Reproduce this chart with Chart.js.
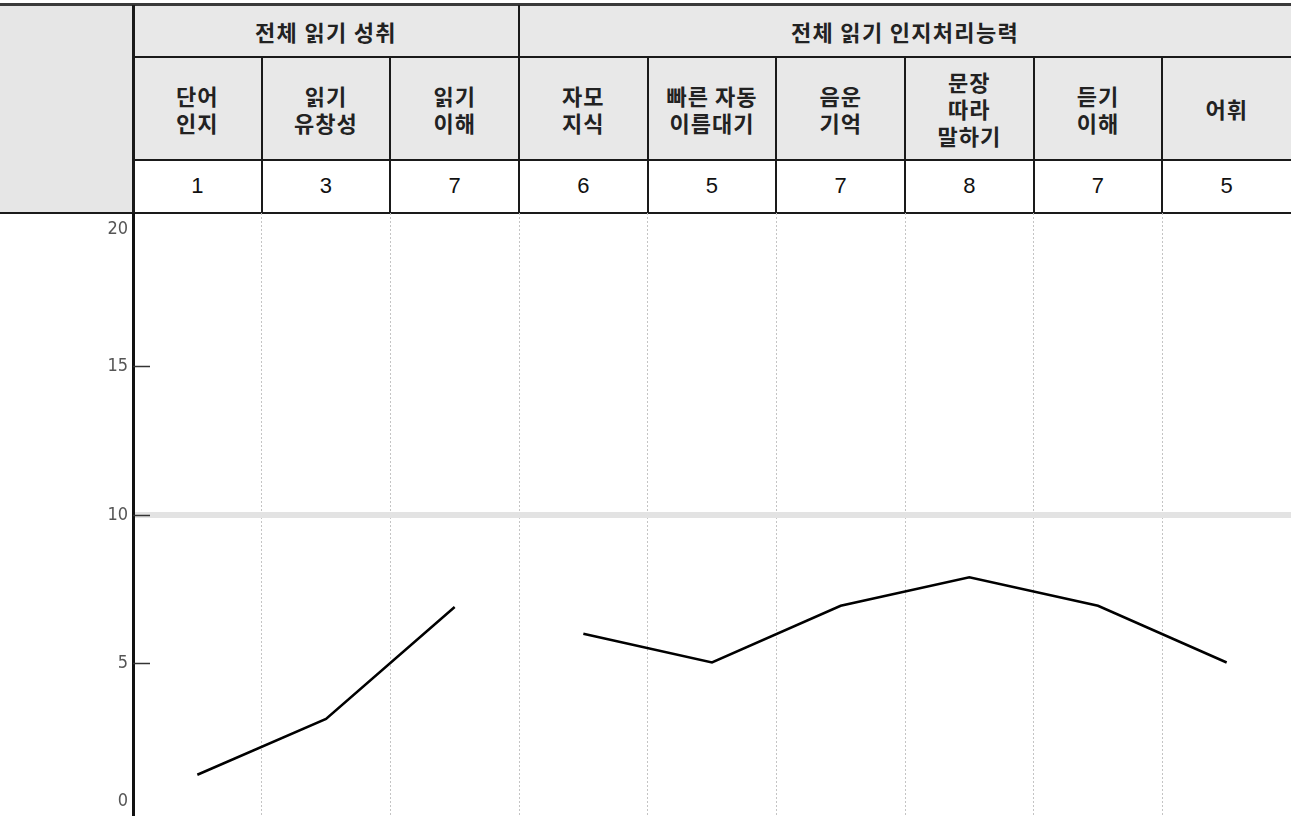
<!DOCTYPE html>
<html>
<head>
<meta charset="utf-8">
<script src="https://cdn.jsdelivr.net/npm/chart.js@4/dist/chart.umd.min.js"></script>
<style>
  html, body { margin: 0; padding: 0; background: #fff; }
  #wrap { position: relative; width: 1291px; height: 816px; overflow: hidden; }
  #table { position: absolute; left: 0; top: 0; width: 1291px; height: 213px; }
  .cell { position: absolute; box-sizing: border-box; display: flex; align-items: center; justify-content: center;
          text-align: center; font-family: "Noto Sans CJK KR", sans-serif; font-weight: 700; color: #222; }
  .ln { position: absolute; background: #1a1a1a; }
  #chartBox { position: absolute; left: 0; top: 213px; width: 1291px; height: 603px; }
</style>
</head>
<body>
<div id="wrap">
  <div id="table"></div>
  <div id="chartBox"><canvas id="c" width="1291" height="603"></canvas></div>
</div>
<script>
// ---- data ----
const groups = ["전체 읽기 성취", "전체 읽기 인지처리능력"];
const groupSizes = [3, 6];
const categories = [
  ["단어", "인지"], ["읽기", "유창성"], ["읽기", "이해"],
  ["자모", "지식"], ["빠른 자동", "이름대기"], ["음운", "기억"],
  ["문장", "따라", "말하기"], ["듣기", "이해"], ["어휘"]
];
const tableValues = [1, 3, 7, 6, 5, 7, 8, 7, 5];
const achievementSeries = [1.25, 3.13, 6.9, null, null, null, null, null, null];
const cognitiveSeries = [null, null, null, 6.0, 5.03, 6.94, 7.9, 6.94, 5.03];
const yTickValues = [0, 5, 10, 15, 20];
const yTickLabels = ["0", "5", "10", "15", "20"];

// ---- header table (layout) ----
const T = document.getElementById('table');
const L = 133, R = 1291, colW = (R - L) / categories.length;
function el(cls, x, y, w, h, bg) {
  const d = document.createElement('div');
  d.className = cls;
  d.style.left = x + 'px'; d.style.top = y + 'px';
  d.style.width = w + 'px'; d.style.height = h + 'px';
  if (bg) d.style.background = bg;
  T.appendChild(d);
  return d;
}
const y0 = 5, y1 = 57, y2 = 160, y3 = 212;
el('cell', 0, y0, L, y3 - y0, '#e6e6e6');
el('cell', L, y0, R - L, y2 - y0, '#e8e8e8');
let gi = 0;
groups.forEach((g, k) => {
  const x = L + gi * colW, w = groupSizes[k] * colW;
  const c = el('cell', x, y0, w, y1 - y0);
  c.textContent = g; c.style.fontSize = '22px'; c.style.letterSpacing = '1.3px';
  gi += groupSizes[k];
});
categories.forEach((cat, i) => {
  const x = L + i * colW;
  const c = el('cell', x, y1, colW, y2 - y1);
  c.innerHTML = cat.join('<br>');
  c.style.fontSize = '22px'; c.style.lineHeight = '27px'; c.style.letterSpacing = '1px';
  const v = el('cell', x, y2, colW, y3 - y2);
  v.textContent = tableValues[i];
  v.style.fontFamily = '"Liberation Sans", Arial, sans-serif';
  v.style.fontWeight = '400'; v.style.fontSize = '22px'; v.style.color = '#111';
});
el('ln', 0, 3, R, 3).style.background = '#3a3a3a';
el('ln', L, y1 - 1, R - L, 2);
el('ln', L, y2 - 1, R - L, 2);
el('ln', 0, y3, R, 2);
el('ln', L - 1.5, y0, 3, y3 - y0 + 2);
let acc = 0;
groupSizes.forEach((s, k) => {
  for (let j = 1; j <= s; j++) {
    const idx = acc + j;
    if (idx >= categories.length) continue;
    const x = L + idx * colW;
    const top = (j === s) ? y0 : y1;
    el('ln', x - 1, top, 2, y3 - top);
  }
  acc += s;
});

// ---- chart ----
const insideTicks = {
  id: 'insideTicks',
  afterDatasetsDraw(chart) {
    const ys = chart.scales.y, ctx = chart.ctx, a = chart.chartArea;
    ctx.save();
    ctx.strokeStyle = '#333'; ctx.lineWidth = 1.5;
    yTickValues.forEach(v => {
      if (v === 0 || v === 20) return;
      const py = Math.round(ys.getPixelForValue(v)) + 0.5;
      ctx.beginPath(); ctx.moveTo(a.left, py); ctx.lineTo(a.left + 17, py); ctx.stroke();
    });
    ctx.restore();
  }
};

new Chart(document.getElementById('c'), {
  type: 'line',
  data: {
    labels: categories.map(c => c.join(' ')),
    datasets: [
      { data: achievementSeries, borderColor: '#000', borderWidth: 2.5, pointRadius: 0, tension: 0, spanGaps: false },
      { data: cognitiveSeries, borderColor: '#000', borderWidth: 2.5, pointRadius: 0, tension: 0, spanGaps: false }
    ]
  },
  options: {
    responsive: false,
    animation: false,
    layout: { padding: 0 },
    plugins: { legend: { display: false }, tooltip: { enabled: false } },
    scales: {
      x: {
        type: 'category',
        offset: true,
        grid: { offset: true, color: '#c4c4c4', lineWidth: 1, drawTicks: false },
        border: { display: false, dash: [2, 2] },
        ticks: { display: false }
      },
      y: {
        min: -0.14, max: 20.17,
        afterBuildTicks(scale) { scale.ticks = yTickValues.map(v => ({ value: v })); },
        afterFit(scale) {
          scale.width = L;
          scale.paddingTop = 0; scale.paddingBottom = 0;
        },
        grid: {
          drawTicks: false,
          color: ctx => (ctx.tick && ctx.tick.value === 10) ? '#e3e3e3' : 'rgba(0,0,0,0)',
          lineWidth: ctx => (ctx.tick && ctx.tick.value === 10) ? 6 : 0
        },
        border: { display: true, color: '#111', width: 3 },
        ticks: {
          padding: 5,
          color: '#555',
          font: { family: '"Liberation Sans Narrow", "DejaVu Sans Condensed", sans-serif', size: 18 },
          callback: (v) => {
            const i = yTickValues.indexOf(v);
            const s = yTickLabels[i];
            if (v === 0) return [s, ''];
            if (v === 20) return ['', s];
            return s;
          }
        }
      }
    }
  },
  plugins: [insideTicks]
});
</script>
</body>
</html>
